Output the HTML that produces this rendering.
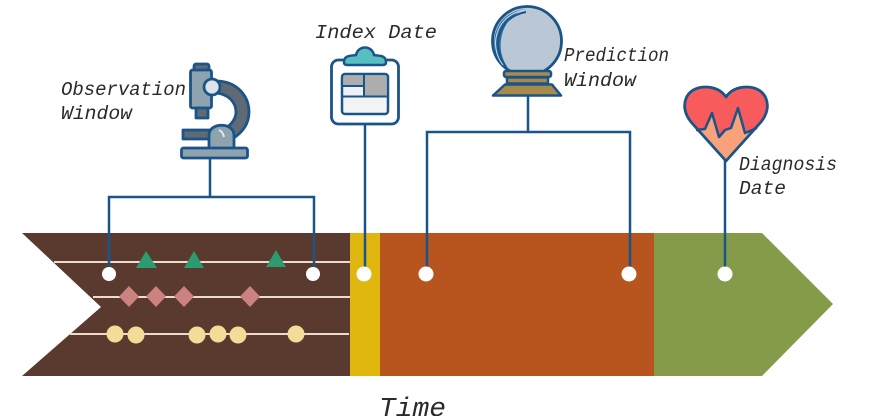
<!DOCTYPE html>
<html><head><meta charset="utf-8">
<style>
html,body{margin:0;padding:0;background:#fff;width:872px;height:416px;overflow:hidden}
svg{display:block}
text{font-family:"Liberation Mono","DejaVu Sans Mono",monospace;font-style:italic;fill:#2a2a2a;font-size:19px}
</style></head><body>
<svg width="872" height="416" viewBox="0 0 872 416" xmlns="http://www.w3.org/2000/svg">
<rect width="872" height="416" fill="#fff"/>
<!-- bands -->
<polygon points="22,233 350,233 350,376 22,376 101,307" fill="#5a3a2f"/>
<rect x="350" y="233" width="30" height="143" fill="#e0b70e"/>
<rect x="380" y="233" width="274" height="143" fill="#b8541d"/>
<polygon points="654,233 762,233 833,304 762,376 654,376" fill="#859b4a"/>
<!-- timelines -->
<g stroke="#ecdccb" stroke-width="2">
<line x1="54" y1="262" x2="350" y2="262"/>
<line x1="93" y1="297" x2="350" y2="297"/>
<line x1="70" y1="334" x2="349" y2="334"/>
</g>
<!-- triangles -->
<g fill="#2c9b70">
<polygon points="146,251 136,268 157,268"/>
<polygon points="194,251 184,268 204,268"/>
<polygon points="276,250 266,267 286,267"/>
</g>
<!-- diamonds -->
<g fill="#cb8280">
<polygon points="129,286 139,296.500 129,307 119,296.500"/>
<polygon points="156,286 166,296.500 156,307 146,296.500"/>
<polygon points="184,286 194,296.500 184,307 174,296.500"/>
<polygon points="250,286 260,296.500 250,307 240,296.500"/>
</g>
<!-- dots -->
<g fill="#f3dc97">
<circle cx="115" cy="334" r="8.500"/><circle cx="136" cy="335" r="8.500"/>
<circle cx="197" cy="335" r="8.500"/><circle cx="218" cy="334" r="8.500"/>
<circle cx="238" cy="335" r="8.500"/><circle cx="296" cy="334" r="8.500"/>
</g>
<!-- connectors -->
<g fill="none" stroke="#1b5488" stroke-width="2.500">
<path d="M210 158V197M109 274V197H314V274"/>
<path d="M365 122V274"/>
<path d="M528 96V132M427 274V132H630V274"/>
<path d="M725 160V274"/>
</g>
<g fill="#fff">
<circle cx="109" cy="274" r="7"/><circle cx="313" cy="274" r="7"/>
<circle cx="364" cy="274" r="7.500"/><circle cx="426" cy="274" r="7.500"/>
<circle cx="629" cy="274" r="7.500"/><circle cx="725" cy="274" r="7.500"/>
</g>
<!-- microscope -->
<g stroke="#1b5488" stroke-width="2.800" stroke-linejoin="round">
<path d="M218 81C238 82 249 97 249 112C249 124 242 133 232 139L226 128C232 124 236 118 236 112C236 102 228 94 216 93Z" fill="#5f6a75"/>
<rect x="194" y="64" width="15" height="8" rx="2" fill="#5f6a75"/>
<rect x="190.500" y="70" width="21" height="38" rx="2" fill="#8fa3ae"/>
<rect x="196" y="108" width="12" height="10" fill="#5f6a75"/>
<rect x="183" y="130" width="30" height="9" fill="#5f6a75"/>
<path d="M209 149V135C209 122 234 122 234 135V149Z" fill="#8fa3ae"/>
<rect x="181.500" y="148" width="66" height="10" rx="2" fill="#8fa3ae"/>
<circle cx="212" cy="87" r="8" fill="#dde3e8"/>
</g>
<path d="M219 130Q223 132 224 137" stroke="#e4e8ea" stroke-width="2" fill="none"/>
<!-- clipboard -->
<rect x="331.500" y="60" width="67" height="64" rx="7" fill="#fff" stroke="#1b5488" stroke-width="2.800"/>
<path d="M344 62C344 55 351 56 356 55C358 45 372 45 374 55C379 56 386 55 386 62C386 65 384 65 382 65H348C346 65 344 65 344 62Z" fill="#57bfc2" stroke="#1b5488" stroke-width="2.500"/>
<rect x="342" y="74" width="46" height="40" rx="3" fill="#f2f3f5" stroke="#1b5488" stroke-width="2.500"/>
<rect x="343.500" y="75.500" width="20" height="9.500" fill="#adadad"/>
<rect x="365" y="75.500" width="21.500" height="20" fill="#adadad"/>
<rect x="343.500" y="87" width="20" height="8.500" fill="#eef1f8"/>
<path d="M343 86H364M364 75V96M343 96.500H388" stroke="#1b5488" stroke-width="2" fill="none"/>
<!-- crystal ball -->
<circle cx="527" cy="41" r="34.500" fill="#b9c8d4" stroke="#1b5488" stroke-width="2.800"/>
<path d="M503 66C486 46 494 12 526 9C504 14 492 46 508 68Z" fill="#2a6d9e"/>
<path d="M506 67C490 46 498 17 526 12" fill="none" stroke="#1b5488" stroke-width="2"/>
<path d="M503 65C488 46 496 15 524 10" fill="none" stroke="#cfe0ea" stroke-width="1"/>
<g stroke="#1b5488" stroke-width="2.500" stroke-linejoin="round" fill="#a88b4a">
<rect x="504" y="71" width="47" height="6" rx="2"/>
<rect x="507" y="77.500" width="41" height="6"/>
<path d="M505 84.500H552L561 95.500H493Z"/>
</g>
<!-- heart -->
<path d="M726 161L691 122C678 106 686 87 705 87C715 87 722 91 726 97C730 91 737 87 747 87C766 87 774 106 761 122Z" fill="#f85b5b"/>
<path d="M696 130L705 129L712 113L719 137L725 130L731 128L738 108L745 133L757 128L726 160Z" fill="#f9a17a"/>
<path d="M696 130L705 129L712 113L719 137L725 130L731 128L738 108L745 133L757 128" fill="none" stroke="#1b5488" stroke-width="2.500" stroke-linejoin="round"/>
<path d="M726 161L691 122C678 106 686 87 705 87C715 87 722 91 726 97C730 91 737 87 747 87C766 87 774 106 761 122Z" fill="none" stroke="#1b5488" stroke-width="2.800" stroke-linejoin="round"/>
<!-- labels -->
<text x="61" y="95" textLength="125" lengthAdjust="spacingAndGlyphs">Observation</text>
<text x="61" y="119" textLength="71" lengthAdjust="spacingAndGlyphs">Window</text>
<text x="315" y="38" textLength="122" lengthAdjust="spacingAndGlyphs">Index Date</text>
<text x="564" y="61" textLength="105" lengthAdjust="spacingAndGlyphs">Prediction</text>
<text x="564" y="86" textLength="72" lengthAdjust="spacingAndGlyphs">Window</text>
<text x="739" y="170" textLength="98" lengthAdjust="spacingAndGlyphs">Diagnosis</text>
<text x="739" y="194" textLength="47" lengthAdjust="spacingAndGlyphs">Date</text>
<text x="379" y="416" textLength="67" lengthAdjust="spacingAndGlyphs" style="font-size:27px">Time</text>
</svg>
</body></html>
